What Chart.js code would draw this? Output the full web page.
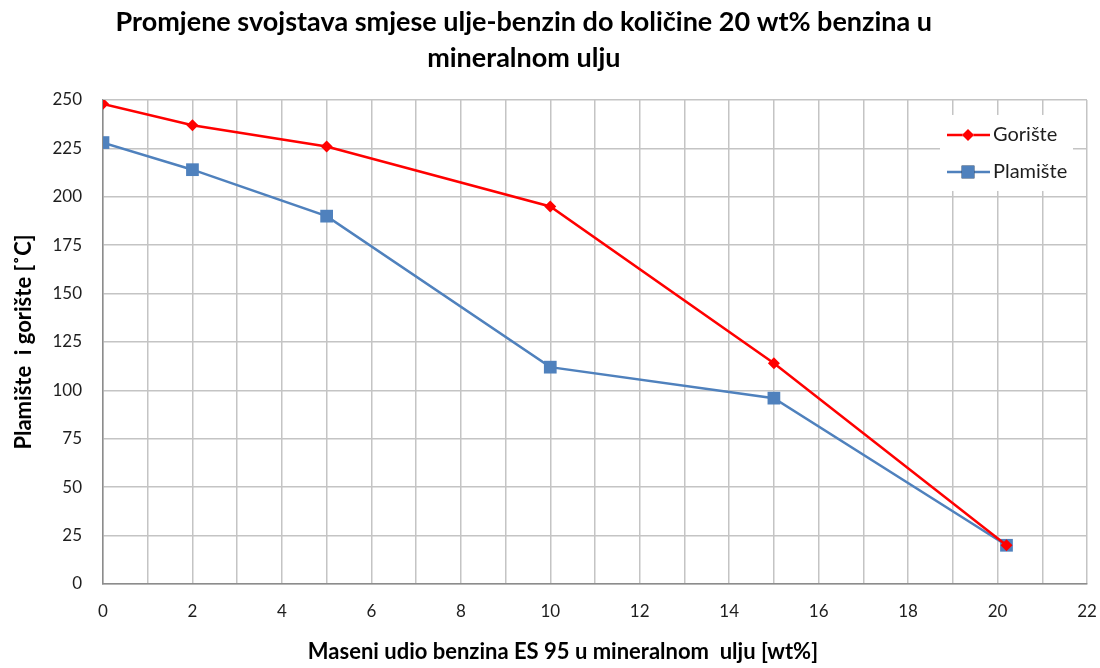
<!DOCTYPE html>
<html>
<head>
<meta charset="utf-8">
<script src="https://cdn.jsdelivr.net/npm/chart.js@4"></script>
<style>
  html, body { margin: 0; padding: 0; background: #fff; }
  #wrap { width: 1100px; height: 668px; }
</style>
</head>
<body>
<div id="wrap"><canvas id="chart" width="1100" height="668"></canvas></div>
<script>
  // Data
  const benzinShare = [0, 2, 5, 10, 15, 20.2];
  const goristeValues = [248, 237, 226, 195, 114, 20];
  const plamisteValues = [228, 214, 190, 112, 96, 20];
  const xTickLabels = ['0', '2', '4', '6', '8', '10', '12', '14', '16', '18', '20', '22'];
  const yTickLabels = ['0', '25', '50', '75', '100', '125', '150', '175', '200', '225', '250'];

  const FONT = 'Lato, "Open Sans", sans-serif';
  const COLORS = {
    RED: '#ff0000',
    BLUE: '#4f81bd',
    GRID: '#c4c4c4',
    AXIS: '#8c8c8c',
    TEXT: '#1e1e1e'
  };

  function toPoints(xs, ys) {
    return xs.map((x, i) => ({ x: x, y: ys[i] }));
  }

  // trailing blanks nudge a centred line to the left, like the original
  function padRight(str, n) {
    return str + ' '.repeat(n);
  }

  // Legend drawn inside the plot area, top right, on a white box
  const innerLegend = {
    id: 'innerLegend',
    afterDatasetsDraw(chart) {
      const ctx = chart.ctx;
      const area = chart.chartArea;
      const left = area.right - 147;
      const top = area.top + 15;
      ctx.save();
      ctx.fillStyle = '#fff';
      ctx.fillRect(left, top, 133, 76);
      chart.data.datasets.forEach((ds, i) => {
        const cy = top + 20 + i * 37;
        const x0 = left + 7;
        ctx.strokeStyle = ds.borderColor;
        ctx.lineWidth = ds.borderWidth;
        ctx.beginPath();
        ctx.moveTo(x0, cy);
        ctx.lineTo(x0 + 43, cy);
        ctx.stroke();
        Chart.helpers.drawPoint(ctx, {
          pointStyle: ds.pointStyle,
          radius: ds.pointRadius,
          borderWidth: 0,
          rotation: 0
        }, x0 + 21, cy);
        ctx.fillStyle = ds.pointBackgroundColor;
        ctx.fill();
        ctx.fillStyle = COLORS.TEXT;
        ctx.font = '20px ' + FONT;
        ctx.textBaseline = 'middle';
        ctx.textAlign = 'left';
        ctx.fillText(ds.label, x0 + 46, cy);
      });
      ctx.restore();
    }
  };

  new Chart(document.getElementById('chart').getContext('2d'), {
    type: 'line',
    data: {
      datasets: [{
        label: 'Gorište',
        data: toPoints(benzinShare, goristeValues),
        borderColor: COLORS.RED,
        backgroundColor: COLORS.RED,
        pointBackgroundColor: COLORS.RED,
        pointBorderColor: COLORS.RED,
        borderWidth: 2.5,
        pointStyle: 'rectRot',
        pointRadius: 6,
        pointBorderWidth: 0,
        tension: 0
      }, {
        label: 'Plamište',
        data: toPoints(benzinShare, plamisteValues),
        borderColor: COLORS.BLUE,
        backgroundColor: COLORS.BLUE,
        pointBackgroundColor: COLORS.BLUE,
        pointBorderColor: COLORS.BLUE,
        borderWidth: 2.5,
        pointStyle: 'rect',
        pointRadius: 9,
        pointBorderWidth: 0,
        tension: 0
      }]
    },
    options: {
      responsive: false,
      animation: false,
      layout: { padding: { left: 0, right: 13, top: 4, bottom: 0 } },
      plugins: {
        legend: { display: false },
        tooltip: { enabled: false },
        title: {
          display: true,
          text: [
            padRight('Promjene svojstava smjese ulje-benzin do količine 20 wt% benzina u', 6),
            padRight('mineralnom ulju', 6)
          ],
          color: '#000',
          font: { family: FONT, size: 27, weight: 'bold', lineHeight: 1.333 },
          padding: { top: 0, bottom: 24 }
        }
      },
      scales: {
        x: {
          type: 'linear',
          min: 0,
          max: 22,
          afterFit: s => {
            s.height = 84;
            s.paddingLeft = 0;
            s.paddingRight = 0;
          },
          afterBuildTicks: s => {
            s.ticks = [];
            for (let v = 0; v <= 22; v++) s.ticks.push({ value: v });
          },
          ticks: {
            autoSkip: false,
            maxRotation: 0,
            padding: 17,
            color: COLORS.TEXT,
            font: { family: FONT, size: 17 },
            callback: v => xTickLabels.includes(String(v)) ? String(v) : ''
          },
          grid: { color: COLORS.GRID, lineWidth: 1.5, drawTicks: false },
          border: { color: COLORS.AXIS, width: 1.5 },
          title: {
            display: true,
            text: padRight('Maseni udio benzina ES 95 u mineralnom  ulju [wt%]', 12),
            color: '#000',
            font: { family: FONT, size: 22, weight: 'bold' },
            padding: { top: 20, bottom: 3 }
          }
        },
        y: {
          min: 0,
          max: 250,
          afterFit: s => { s.width = 103; },
          afterBuildTicks: s => {
            s.ticks = yTickLabels.map(t => ({ value: Number(t) }));
          },
          ticks: {
            padding: 21,
            color: COLORS.TEXT,
            font: { family: FONT, size: 17 }
          },
          grid: { color: COLORS.GRID, lineWidth: 1.5, drawTicks: false },
          border: { color: COLORS.AXIS, width: 1.5 },
          title: {
            display: true,
            text: 'Plamište  i gorište [˚C]',
            color: '#000',
            font: { family: FONT, size: 22, weight: 'bold' },
            padding: { top: 11, bottom: 0 }
          }
        }
      }
    },
    plugins: [innerLegend]
  });
</script>
</body>
</html>
